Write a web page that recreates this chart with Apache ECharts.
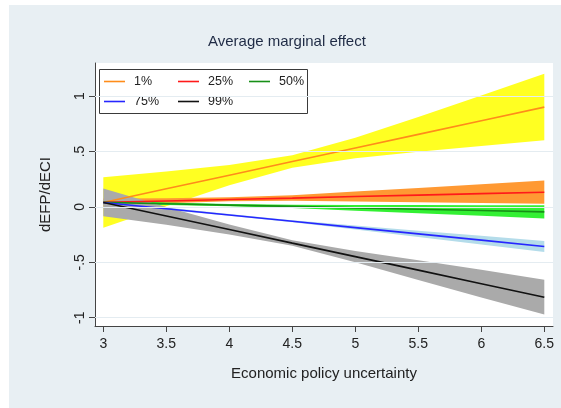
<!DOCTYPE html>
<html>
<head>
<meta charset="utf-8">
<script src="https://cdn.jsdelivr.net/npm/echarts@6/dist/echarts.min.js"></script>
<style>
html, body { margin: 0; padding: 0; background: #fff; }
#chart { width: 561px; height: 408px; }
</style>
</head>
<body>
<div id="chart"></div>
<script>
// Evaluation points of economic policy uncertainty
const uncertainty = [3, 3.5, 4, 4.5, 5, 5.5, 6, 6.5];

// Quantile labels
const quantiles = ['1%', '25%', '50%', '75%', '99%'];

// Average marginal effect dEFP/dECI with 95% confidence bounds, per quantile
const effect_q01 = [0.04, 0.163, 0.286, 0.409, 0.531, 0.654, 0.777, 0.90];
const lower_q01  = [-0.188, 0.006, 0.194, 0.353, 0.439, 0.497, 0.549, 0.60];
const upper_q01  = [0.268, 0.320, 0.378, 0.465, 0.623, 0.811, 1.005, 1.20];

const effect_q25 = [0.04, 0.053, 0.066, 0.079, 0.093, 0.106, 0.119, 0.132];
const lower_q25  = [0.005, 0.033, 0.051, 0.054, 0.048, 0.041, 0.034, 0.027];
const upper_q25  = [0.075, 0.078, 0.086, 0.104, 0.138, 0.171, 0.204, 0.237];

const effect_q50 = [0.04, 0.028, 0.016, 0.004, -0.009, -0.021, -0.033, -0.045];
const lower_q50  = [0.02, 0.016, 0.006, -0.011, -0.034, -0.058, -0.081, -0.105];
const upper_q50  = [0.06, 0.040, 0.026, 0.019, 0.016, 0.016, 0.015, 0.015];

const effect_q75 = [0.04, -0.017, -0.073, -0.130, -0.187, -0.244, -0.300, -0.357];
const lower_q75  = [0.02, -0.029, -0.081, -0.140, -0.205, -0.272, -0.339, -0.407];
const upper_q75  = [0.06, -0.005, -0.065, -0.120, -0.169, -0.216, -0.261, -0.307];

const effect_q99 = [0.04, -0.082, -0.204, -0.327, -0.449, -0.571, -0.693, -0.815];
const lower_q99  = [-0.085, -0.162, -0.249, -0.352, -0.499, -0.661, -0.818, -0.972];
const upper_q99  = [0.165, -0.002, -0.159, -0.302, -0.399, -0.481, -0.568, -0.658];

// Axis tick values
const xTicks = [3, 3.5, 4, 4.5, 5, 5.5, 6, 6.5];
const yTicks = [-1, -0.5, 0, 0.5, 1];

const effects = [effect_q01, effect_q25, effect_q50, effect_q75, effect_q99];
const lowers  = [lower_q01, lower_q25, lower_q50, lower_q75, lower_q99];
const uppers  = [upper_q01, upper_q25, upper_q50, upper_q75, upper_q99];

const lineColors = ['#ff8c1a', '#ff1a1a', '#178f17', '#2626ff', '#111111'];
const bandColors = ['#ffff22', '#ff9933', '#33f033', '#b4dcea', '#aaaaaa'];

function bandSeries(i) {
  const lo = lowers[i], hi = uppers[i];
  return {
    type: 'custom',
    name: quantiles[i] + ' CI',
    silent: true,
    z: 2,
    data: uncertainty.map((x, k) => [x, lo[k], hi[k]]),
    encode: { x: 0, y: [1, 2] },
    renderItem: function (params, api) {
      if (params.dataIndex !== 0) return null;
      const top = uncertainty.map((x, k) => api.coord([x, hi[k]]));
      const bottom = uncertainty.map((x, k) => api.coord([x, lo[k]])).reverse();
      return {
        type: 'polygon',
        shape: { points: top.concat(bottom) },
        style: { fill: bandColors[i] }
      };
    }
  };
}

function lineSeries(i) {
  return {
    type: 'line',
    name: quantiles[i],
    z: 3,
    showSymbol: false,
    symbol: 'none',
    silent: true,
    color: lineColors[i],
    lineStyle: { color: lineColors[i], width: 1.6 },
    data: uncertainty.map((x, k) => [x, effects[i][k]])
  };
}

const series = [{
  type: 'line',
  name: 'grid',
  z: 1,
  data: [],
  silent: true,
  markLine: {
    silent: true,
    symbol: 'none',
    label: { show: false },
    lineStyle: { color: '#e4ecf1', width: 1, type: 'solid' },
    data: yTicks.map(v => ({ yAxis: v }))
  }
}];
quantiles.forEach((q, i) => series.push(bandSeries(i)));
quantiles.forEach((q, i) => series.push(lineSeries(i)));

// Legend: three columns, two rows inside a framed box
const legendCols = [104, 178, 249];
const legendRows = [75, 95];
const legends = quantiles.map((q, i) => ({
  left: legendCols[i % 3],
  top: legendRows[Math.floor(i / 3)],
  padding: 0,
  icon: 'rect',
  itemWidth: 21,
  itemHeight: 1.6,
  z: 4,
  selectedMode: false,
  data: [{ name: q, itemStyle: { color: lineColors[i] } }],
  textStyle: { fontFamily: 'Liberation Sans', fontSize: 12.5, color: '#222', padding: [0, 0, 0, 4] }
}));

const fmtY = v => {
  if (v === 0) return '0';
  const s = String(Math.abs(v)).replace(/^0\./, '.');
  return (v < 0 ? '-' : '') + s;
};

const chart = echarts.init(document.getElementById('chart'), null, { renderer: 'canvas' });
chart.setOption({
  animation: false,
  backgroundColor: '#ffffff',
  textStyle: { fontFamily: 'Liberation Sans' },
  title: {
    text: 'Average marginal effect',
    left: 208,
    top: 34,
    padding: 0,
    textStyle: { fontFamily: 'Liberation Sans', fontSize: 15, fontWeight: 'normal', color: '#1f2b45' }
  },
  legend: legends,
  graphic: [
    { type: 'rect', z: -1, silent: true, shape: { x: 9, y: 5, width: 552, height: 403 }, style: { fill: '#e8eff3' } },
    { type: 'rect', z: 3, silent: true, shape: { x: 99.5, y: 69.5, width: 208, height: 44 }, style: { fill: '#ffffff', stroke: '#3a3a3a', lineWidth: 1 } }
  ],
  grid: {
    left: 95, right: 8, top: 63, bottom: 82,
    show: true, backgroundColor: '#ffffff', borderWidth: 0
  },
  xAxis: {
    type: 'value',
    min: 2.934, max: 6.569,
    axisLine: { show: true, onZero: false, lineStyle: { color: '#444', width: 1 } },
    axisTick: { show: true, customValues: xTicks, length: 6, lineStyle: { color: '#444' } },
    axisLabel: { customValues: xTicks, fontSize: 14, color: '#222', margin: 11, formatter: v => String(v) },
    splitLine: { show: false },
    name: 'Economic policy uncertainty',
    nameLocation: 'middle',
    nameGap: 40,
    nameTextStyle: { fontSize: 15, color: '#222' }
  },
  yAxis: {
    type: 'value',
    min: -1.075, max: 1.298,
    axisLine: { show: true, onZero: false, lineStyle: { color: '#444', width: 1 } },
    axisTick: { show: true, customValues: yTicks, length: 6, lineStyle: { color: '#444' } },
    axisLabel: { customValues: yTicks, fontSize: 14, color: '#222', margin: 8, rotate: 90, formatter: fmtY },
    splitLine: { show: false },
    name: 'dEFP/dECI',
    nameLocation: 'middle',
    nameGap: 42,
    nameRotate: 90,
    nameTextStyle: { fontSize: 15, color: '#222' }
  },
  series: series
});
</script>
</body>
</html>
